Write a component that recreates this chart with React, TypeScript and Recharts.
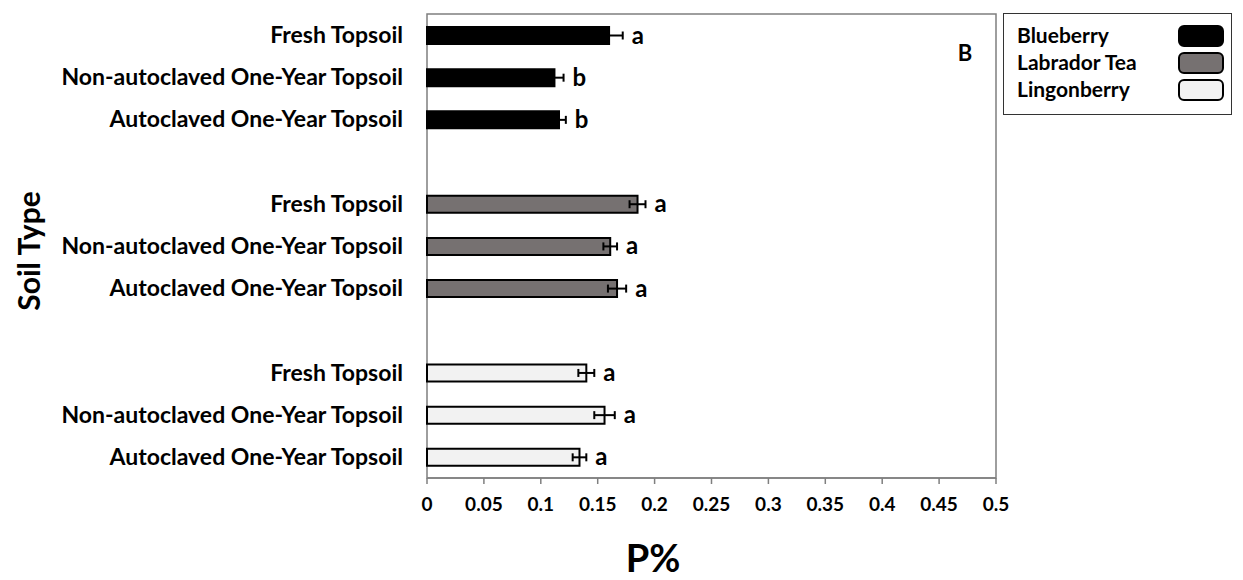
import React from 'react'
import { BarChart, Bar, XAxis, YAxis, ErrorBar, Cell, LabelList, ReferenceArea } from 'recharts'

const soilTypes = ['Fresh Topsoil', 'Non-autoclaved One-Year Topsoil', 'Autoclaved One-Year Topsoil']
const species = ['Blueberry', 'Labrador Tea', 'Lingonberry']
const speciesFill = ['#000000', '#767171', '#F2F2F2']

// P% means and standard errors
const blueberryP = [0.160, 0.112, 0.116]
const blueberryErr = [0.012, 0.008, 0.006]
const blueberryLetters = ['a', 'b', 'b']

const labradorP = [0.185, 0.161, 0.167]
const labradorErr = [0.007, 0.006, 0.008]
const labradorLetters = ['a', 'a', 'a']

const lingonP = [0.140, 0.156, 0.134]
const lingonErr = [0.007, 0.009, 0.006]
const lingonLetters = ['a', 'a', 'a']

const xTicks = [0, 0.05, 0.1, 0.15, 0.2, 0.25, 0.3, 0.35, 0.4, 0.45, 0.5]

const FONT = 'Lato, "Open Sans", sans-serif'

type Row = { id: string; label: string; value: number | null; err: number | null; letter: string; fill: string }

const groups = [
  { values: blueberryP, errs: blueberryErr, letters: blueberryLetters },
  { values: labradorP, errs: labradorErr, letters: labradorLetters },
  { values: lingonP, errs: lingonErr, letters: lingonLetters },
]

const rows: Row[] = []
groups.forEach((g, gi) => {
  soilTypes.forEach((s, si) => {
    rows.push({ id: `${gi}-${si}`, label: s, value: g.values[si], err: g.errs[si], letter: g.letters[si], fill: speciesFill[gi] })
  })
  // empty slot between the species groups
  if (gi < groups.length - 1) rows.push({ id: `gap-${gi}`, label: '', value: null, err: null, letter: '', fill: 'none' })
})

const rowById: Record<string, Row> = Object.fromEntries(rows.map((r) => [r.id, r]))

function SoilTick({ y, payload }: any) {
  return (
    <text x={403} y={y} dy={8} textAnchor="end" fontFamily={FONT} fontWeight={700} fontSize={23} fill="#000">
      {rowById[payload.value]?.label}
    </text>
  )
}

// significance letter sits just past the end of the error bar
function LetterLabel({ x, y, width, height, value }: any) {
  const r = rowById[value]
  if (!r || r.value == null) return null
  const pxPerUnit = width / r.value
  const end = x + width + (r.err ?? 0) * pxPerUnit
  return (
    <text x={end + 9} y={y + height / 2} dy={8} fontFamily={FONT} fontWeight={700} fontSize={24} fill="#000">
      {r.letter}
    </text>
  )
}

export default function App() {
  return (
    <div style={{ position: 'absolute', left: 0, top: 0, width: 1243, height: 580, background: '#fff' }}>
      <BarChart
        width={1243}
        height={580}
        data={rows}
        layout="vertical"
        margin={{ top: 14, right: 247, bottom: 0, left: 0 }}
      >
        <XAxis
          type="number"
          domain={[0, 0.5]}
          ticks={xTicks}
          interval={0}
          height={102}
          axisLine={{ stroke: '#7f7f7f', strokeWidth: 1.5 }}
          tickLine={{ stroke: '#7f7f7f', strokeWidth: 1.5 }}
          tickSize={6}
          tickMargin={14}
          tick={{ fontFamily: FONT, fontWeight: 700, fontSize: 19, fill: '#000' }}
        />
        <YAxis
          type="category"
          dataKey="id"
          width={427}
          axisLine={false}
          tickLine={false}
          interval={0}
          tick={<SoilTick />}
        />
        <ReferenceArea x1={0} x2={0.5} fill="none" stroke="#7f7f7f" strokeWidth={1.5} ifOverflow="visible" />
        <Bar dataKey="value" barSize={17} stroke="#000" strokeWidth={2} isAnimationActive={false}>
          {rows.map((r) => (
            <Cell key={r.id} fill={r.fill} />
          ))}
          <ErrorBar dataKey="err" direction="x" width={4} stroke="#000" strokeWidth={2} />
          <LabelList dataKey="id" content={<LetterLabel />} />
        </Bar>
      </BarChart>

      <svg width={1243} height={580} style={{ position: 'absolute', left: 0, top: 0, pointerEvents: 'none' }}>
        <text x={965} y={61} textAnchor="middle" fontFamily={FONT} fontWeight={700} fontSize={22} fill="#000">B</text>
        <text
          x={0}
          y={0}
          transform="translate(40 251) rotate(-90)"
          textAnchor="middle"
          fontFamily={FONT}
          fontWeight={700}
          fontSize={30}
          fill="#000"
        >
          Soil Type
        </text>
        <text x={653} y={572} textAnchor="middle" fontFamily={FONT} fontWeight={700} fontSize={38} fill="#000">P%</text>
      </svg>

      <div
        style={{
          position: 'absolute', left: 1003, top: 13, width: 229, height: 102,
          border: '1.5px solid #333', boxSizing: 'border-box', fontFamily: FONT,
        }}
      >
        {species.map((s, i) => (
          <div key={s} style={{ position: 'absolute', left: 13, top: 8 + i * 27, height: 26, width: 212 }}>
            <span style={{ fontWeight: 700, fontSize: 21, lineHeight: '26px', color: '#000' }}>{s}</span>
            <div
              style={{
                position: 'absolute', left: 161, top: 3, width: 46, height: 22, boxSizing: 'border-box',
                background: speciesFill[i], border: '2px solid #000', borderRadius: 6,
              }}
            />
          </div>
        ))}
      </div>
    </div>
  )
}
